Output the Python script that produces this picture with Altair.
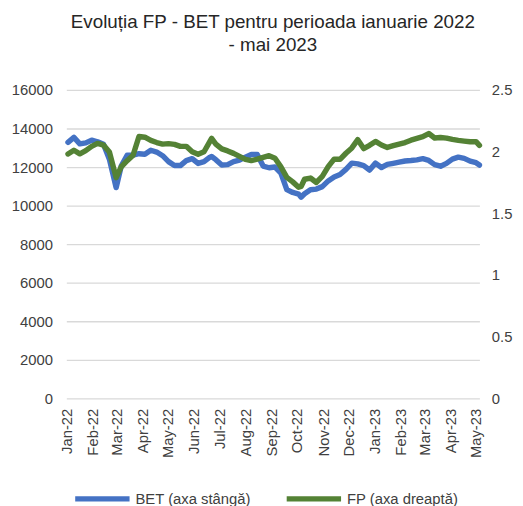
import altair as alt
import pandas as pd

FONT = "Liberation Sans"
TXT = "#404040"

dates = [
    "2022-01-03", "2022-01-10", "2022-01-17", "2022-01-24", "2022-01-31", "2022-02-07",
    "2022-02-14", "2022-02-21", "2022-03-01", "2022-03-07", "2022-03-14", "2022-03-21",
    "2022-03-28", "2022-04-04", "2022-04-11", "2022-04-18", "2022-04-25", "2022-05-02",
    "2022-05-09", "2022-05-16", "2022-05-23", "2022-05-30", "2022-06-06", "2022-06-13",
    "2022-06-20", "2022-06-22", "2022-06-27", "2022-07-04", "2022-07-11", "2022-07-18",
    "2022-07-25", "2022-08-01", "2022-08-08", "2022-08-15", "2022-08-22", "2022-08-29",
    "2022-09-05", "2022-09-12", "2022-09-19", "2022-09-26", "2022-10-03", "2022-10-06",
    "2022-10-10", "2022-10-17", "2022-10-24", "2022-10-31", "2022-11-07", "2022-11-14",
    "2022-11-21", "2022-11-28", "2022-12-05", "2022-12-12", "2022-12-19", "2022-12-26",
    "2023-01-02", "2023-01-09", "2023-01-16", "2023-01-23", "2023-01-30", "2023-02-06",
    "2023-02-13", "2023-02-20", "2023-02-27", "2023-03-06", "2023-03-13", "2023-03-20",
    "2023-03-27", "2023-04-03", "2023-04-10", "2023-04-17", "2023-04-24", "2023-05-01",
    "2023-05-05",
]

bet = [
    13282, 13538, 13205, 13256, 13395, 13313,
    13179, 12410, 10938, 12051, 12615, 12615,
    12692, 12667, 12872, 12779, 12590, 12282,
    12077, 12077, 12333, 12436, 12190, 12282,
    12513, 12549, 12385, 12103, 12128, 12282,
    12359, 12513, 12651, 12651, 12051, 11964,
    12000, 11692, 10831, 10682, 10595, 10436,
    10615, 10821, 10856, 10985, 11282, 11487,
    11615, 11882, 12205, 12164, 12077, 11846,
    12205, 11979, 12138, 12195, 12256, 12313,
    12338, 12374, 12436, 12344, 12128, 12046,
    12190, 12410, 12513, 12451, 12308, 12226,
    12103,
]

fp = [
    1.981, 2.011, 1.982, 2.008, 2.043, 2.067,
    2.053, 1.997, 1.789, 1.876, 1.927, 1.971,
    2.123, 2.117, 2.091, 2.074, 2.061, 2.065,
    2.059, 2.043, 2.043, 1.999, 1.979, 1.999,
    2.083, 2.107, 2.061, 2.022, 2.006, 1.986,
    1.962, 1.937, 1.927, 1.939, 1.953, 1.967,
    1.947, 1.877, 1.792, 1.755, 1.712, 1.718,
    1.776, 1.786, 1.750, 1.800, 1.878, 1.939,
    1.938, 1.987, 2.030, 2.097, 2.025, 2.051,
    2.083, 2.054, 2.034, 2.048, 2.061, 2.074,
    2.093, 2.107, 2.121, 2.147, 2.111, 2.115,
    2.110, 2.099, 2.091, 2.085, 2.080, 2.081,
    2.051,
]

tick_months = [(2022, m) for m in range(1, 13)] + [(2023, m) for m in range(1, 6)]
left_ticks = [0, 2000, 4000, 6000, 8000, 10000, 12000, 14000, 16000]
right_ticks = [0, 0.5, 1, 1.5, 2, 2.5]
series_names = ["BET (axa stângă)", "FP (axa dreaptă)"]
series_colors = ["#4472C4", "#548235"]

df = pd.DataFrame({"date": pd.to_datetime(dates), "BET": bet, "FP": fp})

x_enc = alt.X(
    "date:T",
    scale=alt.Scale(
        domain=[alt.DateTime(year=2022, month=1, date=1), alt.DateTime(year=2023, month=5, date=5)],
        nice=False,
    ),
    axis=alt.Axis(
        values=[alt.DateTime(year=y, month=m, date=1) for y, m in tick_months],
        format="%b-%y", labelAngle=-90, title=None, grid=False, domain=False,
        ticks=False, labelPadding=10, labelFlush=False, labelOverlap=False,
        labelFontSize=15, labelColor=TXT, labelFont=FONT,
    ),
)

color_scale = alt.Scale(domain=series_names, range=series_colors)
legend = alt.Legend(
    orient="none", legendX=6, legendY=383, direction="horizontal", title=None,
    symbolType="stroke", symbolSize=3025, symbolStrokeWidth=5.5,
    labelFontSize=15, labelFont=FONT, labelColor=TXT, columnPadding=25,
    labelOffset=3, padding=0,
)

base = alt.Chart(df).encode(x=x_enc)

bet_line = (
    base.transform_calculate(series=f"'{series_names[0]}'")
    .mark_line(strokeWidth=5.5, strokeJoin="round", strokeCap="round")
    .encode(
        y=alt.Y(
            "BET:Q",
            scale=alt.Scale(domain=[0, 16000], nice=False),
            axis=alt.Axis(
                orient="left", values=left_ticks, format="d", title=None, grid=True,
                gridColor="#d9d9d9", gridWidth=1.3, domain=False, ticks=False,
                labelPadding=14, labelFontSize=15, labelColor=TXT, labelFont=FONT,
            ),
        ),
        color=alt.Color("series:N", scale=color_scale, legend=legend),
    )
)

fp_line = (
    base.transform_calculate(series=f"'{series_names[1]}'")
    .mark_line(strokeWidth=5.5, strokeJoin="round", strokeCap="round")
    .encode(
        y=alt.Y(
            "FP:Q",
            scale=alt.Scale(domain=[0, 2.5], nice=False),
            axis=alt.Axis(
                orient="right", values=right_ticks, format="~g", title=None, grid=False,
                domain=False, ticks=False, labelPadding=12, labelFontSize=15,
                labelColor=TXT, labelFont=FONT,
            ),
        ),
        color=alt.Color("series:N", scale=color_scale, legend=legend),
    )
)

chart = (
    alt.layer(bet_line, fp_line)
    .resolve_scale(y="independent", color="shared")
    .properties(
        width=418,
        height=312,
        title=alt.Title(
            text=["Evoluția FP - BET pentru perioada ianuarie 2022", "- mai 2023"],
            fontSize=19, font=FONT, color="#262626", fontWeight="normal",
            anchor="middle", offset=28, lineHeight=24,
        ),
        autosize=alt.AutoSizeParams(type="none"),
        padding={"left": 59, "top": 80, "right": 36, "bottom": 106},
    )
    .configure_view(stroke=None)
)

chart.save("out.html", embed_options={"renderer": "svg", "actions": False})
